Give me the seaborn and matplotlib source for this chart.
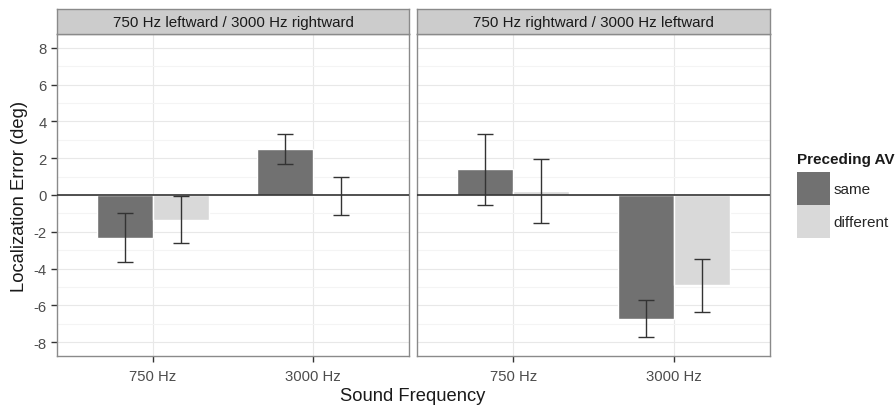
import matplotlib
matplotlib.use("Agg")
import matplotlib.pyplot as plt
from matplotlib.ticker import MultipleLocator
import seaborn as sns
import pandas as pd

# Facets, categories and groups
panels = ["750 Hz leftward / 3000 Hz rightward", "750 Hz rightward / 3000 Hz leftward"]
frequencies = ["750 Hz", "3000 Hz"]
conditions = ["same", "different"]

# Mean localization error (deg) per frequency
left_same = [-2.31, 2.48]
left_diff = [-1.34, -0.04]
right_same = [1.39, -6.72]
right_diff = [0.20, -4.91]

# Standard errors per frequency
left_same_se = [1.31, 0.82]
left_diff_se = [1.28, 1.03]
right_same_se = [1.93, 1.01]
right_diff_se = [1.74, 1.45]

rows = []
for panel, vals in zip(panels, [(left_same, left_diff, left_same_se, left_diff_se),
                                (right_same, right_diff, right_same_se, right_diff_se)]):
    s, d, s_se, d_se = vals
    for i, f in enumerate(frequencies):
        rows.append(dict(panel=panel, freq=f, cond="same", error=s[i], se=s_se[i]))
        rows.append(dict(panel=panel, freq=f, cond="different", error=d[i], se=d_se[i]))
df = pd.DataFrame(rows)

sns.set_theme(style="white")
plt.rcParams["font.family"] = ["Liberation Sans", "DejaVu Sans"]
plt.rcParams["axes.unicode_minus"] = False

W, H = 896, 406
fig = plt.figure(figsize=(W / 100, H / 100), dpi=100)

palette = {"same": "#717171", "different": "#d9d9d9"}
panel_px = [(57, 409), (417, 770)]
top_px, bottom_px, strip_top_px = 35, 357, 10
grid_col = "#e8e8e8"
minor_col = "#f4f4f4"
border_col = "#8a8a8a"
dark = "#333333"

axes = []
for k, (panel, (x0, x1)) in enumerate(zip(panels, panel_px)):
    ax = fig.add_axes([x0 / W, 1 - bottom_px / H, (x1 - x0) / W, (bottom_px - top_px) / H])
    sub = df[df["panel"] == panel]
    sns.barplot(data=sub, x="freq", y="error", hue="cond", order=frequencies,
                hue_order=conditions, palette=palette, width=0.7, saturation=1,
                errorbar=None, ax=ax, legend=(k == 0), zorder=2)
    # error bars placed on each drawn bar
    for cond, cont in zip(conditions, ax.containers):
        for f, bar in zip(frequencies, cont):
            se = sub[(sub["freq"] == f) & (sub["cond"] == cond)]["se"].iloc[0]
            xc = bar.get_x() + bar.get_width() / 2
            ax.errorbar([xc], [bar.get_height() + bar.get_y()], yerr=[se], fmt="none",
                        ecolor=dark, elinewidth=1.0, capsize=5.8, capthick=1.0, zorder=4)
    ax.axhline(0, color=dark, lw=1.2, zorder=3)
    ax.set_xlim(-0.6, 1.6)
    ax.set_ylim(-8.75, 8.75)
    ax.yaxis.set_major_locator(MultipleLocator(2))
    ax.yaxis.set_minor_locator(MultipleLocator(1))
    ax.set_axisbelow(True)
    ax.grid(which="major", color=grid_col, lw=0.8)
    ax.grid(which="minor", axis="y", color=minor_col, lw=0.8)
    ax.set_xlabel("")
    ax.set_ylabel("")
    for sp in ax.spines.values():
        sp.set_color(border_col)
        sp.set_linewidth(1.0)
        sp.set_visible(True)
    ax.tick_params(axis="both", which="major", length=4.5, width=1, color=dark,
                   labelcolor="#4d4d4d", labelsize=10.7, pad=3, bottom=True, left=(k == 0))
    ax.tick_params(axis="x", which="major", pad=5)
    ax.tick_params(axis="both", which="minor", length=0)
    if k == 1:
        ax.tick_params(labelleft=False)
    axes.append(ax)

    # facet strip
    sax = fig.add_axes([x0 / W, 1 - top_px / H, (x1 - x0) / W, (top_px - strip_top_px) / H])
    sax.set_facecolor("#cccccc")
    sax.set_xticks([])
    sax.set_yticks([])
    for sp in sax.spines.values():
        sp.set_color(border_col)
        sp.set_linewidth(1.0)
    sax.text(0.5, 0.48, panel, ha="center", va="center", fontsize=10.9, color="#1a1a1a",
             transform=sax.transAxes)

handles, labels = axes[0].get_legend_handles_labels()
axes[0].get_legend().remove()
for h in handles:
    h.set_edgecolor("none")
    h.set_linewidth(0)
fig.legend(handles, labels, loc="upper left",
           bbox_to_anchor=(797 / W, 1 - 173 / H), frameon=False, fontsize=11,
           handlelength=2.16, handleheight=2.95, labelspacing=0.0, handletextpad=0.25,
           borderaxespad=0, borderpad=0)
fig.text(797 / W, 1 - 160 / H, "Preceding AV", ha="left", va="center",
         fontsize=11, fontweight="bold", color="#1a1a1a")

fig.text(413 / W, 1 - 397 / H, "Sound Frequency", ha="center", va="center",
         fontsize=13.2, color="#1a1a1a")
fig.text(20 / W, 1 - 196 / H, "Localization Error (deg)", ha="center", va="center",
         rotation=90, fontsize=13.2, color="#1a1a1a")

fig.savefig("out.png", dpi=100, facecolor="white")
